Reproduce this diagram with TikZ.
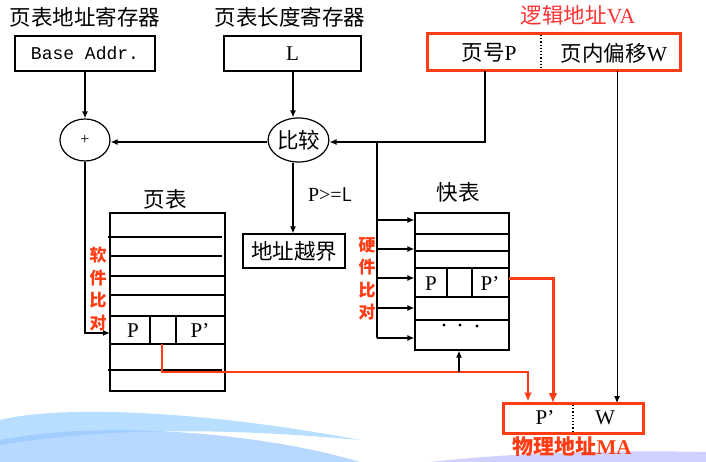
\documentclass[tikz,border=0pt]{standalone}
\usepackage{fontspec}
\setmainfont{Liberation Serif}
\setmonofont{Liberation Mono}
\newfontfamily\cjk{Noto Sans CJK SC}
\usetikzlibrary{shapes.geometric,arrows.meta}
\definecolor{hred}{RGB}{255,60,20}
\definecolor{lred}{RGB}{255,50,50}
\tikzset{
  box/.style={draw,line width=1.2pt,inner sep=0pt},
  rbox/.style={draw=hred,line width=3pt,inner sep=0pt},
  ell/.style={draw,line width=1.2pt,ellipse,inner sep=0pt},
  conn/.style={line width=1.3pt,-{Latex[length=7pt,width=6pt]}},
  plain/.style={line width=1.3pt},
  redconn/.style={draw=hred,line width=2pt,-{Latex[length=9pt,width=8pt]}},
  redthick/.style={draw=hred,line width=3pt,-{Latex[length=10pt,width=9pt]}},
  lbl/.style={font=\cjk\fontsize{21.5}{24}\selectfont,inner sep=0pt},
  lat/.style={font=\fontsize{21}{24}\selectfont,inner sep=0pt},
  vlbl/.style={font=\cjk\bfseries\fontsize{17}{22.5}\selectfont,text=hred,align=center,inner sep=0pt},
  rowline/.style={line width=1.2pt},
  dotmark/.style={circle,fill,inner sep=0pt,minimum size=3.2pt},
}
\begin{document}
\begin{tikzpicture}[x=1pt,y=-1pt]
\useasboundingbox (0,0) rectangle (706,462);
% decorative background swoosh
\fill[blue!45!cyan!35,opacity=0.8] (0,420) .. controls (60,405) and (200,410) .. (360,440) .. controls (250,430) and (120,425) .. (0,445) -- cycle;
\fill[blue!55!cyan!40,opacity=0.7] (0,440) .. controls (100,420) and (260,432) .. (360,462) -- (0,462) -- cycle;
\fill[blue!30,opacity=0.6] (430,462) .. controls (520,452) and (620,450) .. (706,452) -- (706,462) -- cycle;

% titles
\node[lbl] (t1) at (85,17) {页表地址寄存器};
\node[lbl] (t2) at (290,17) {页表长度寄存器};
\node[lbl,text=lred] (t3) at (578,15) {逻辑地址\textrm{VA}};

% registers
\node[box,minimum width=140pt,minimum height=35pt,font=\ttfamily\fontsize{18}{20}\selectfont] (base) at (85,53.5) {Base Addr.};
\node[box,minimum width=137pt,minimum height=35pt,lat] (len) at (292.5,53.5) {L};
\node[rbox,minimum width=253pt,minimum height=37pt] (va) at (553.5,52.5) {};
\draw[dotted,line width=1.2pt] (541,35) -- (541,70);
\node[lbl] (vp) at (489,53) {页号\textrm{P}};
\node[lbl] (vw) at (614,53) {页内偏移\textrm{W}};

% ellipses
\node[ell,minimum width=50pt,minimum height=42pt,font=\fontsize{16}{18}\selectfont] (plus) at (85,140) {+};
\node[ell,minimum width=59pt,minimum height=44pt,lbl,draw,line width=1.2pt] (cmp) at (298.5,140) {比较};

% out of bound box
\node[box,minimum width=102pt,minimum height=34pt,lbl] (oob) at (294,251) {地址越界};
\node[font=\fontsize{20}{22}\selectfont,inner sep=0pt] (ge) at (330,195) {P>=\textsf{L}};

% page table
\node[lbl] (ptl) at (165,199) {页表};
\node[box,minimum width=115pt,minimum height=178pt] (pt) at (167.5,302) {};
\draw[rowline] (108,237) -- (222,237);
\draw[line width=2pt] (110,256) -- (222,256);
\draw[rowline] (110,276) -- (225,276);
\draw[rowline] (110,295) -- (225,295);
\draw[rowline] (110,316) -- (225,316);
\draw[rowline] (110,344) -- (225,344);
\draw[rowline] (108,370) -- (222,370);
\draw[rowline] (150,316) -- (150,344);
\draw[rowline] (176,316) -- (176,344);
\node[lat] (ptp) at (133,331) {P};
\node[lat] (ptpp) at (200,331) {P’};
\coordinate (ptmid) at (162,344);
\coordinate (ptin) at (110,333);
\node[vlbl] (soft) at (98,289) {软\\件\\比\\对};

% TLB
\node[lbl] (tlbl) at (458,192) {快表};
\node[box,minimum width=94pt,minimum height=137pt] (tlb) at (462,281.5) {};
\draw[rowline] (415,234) -- (509,234);
\draw[rowline] (415,251) -- (509,251);
\draw[rowline] (415,268) -- (509,268);
\draw[rowline] (415,297) -- (509,297);
\draw[rowline] (415,320) -- (509,320);
\draw[rowline] (447,268) -- (447,297);
\draw[rowline] (472,268) -- (472,297);
\node[lat] (tp) at (431,284) {P};
\node[lat] (tpp) at (490,284) {P’};
\node[dotmark] (d1) at (444,325) {};
\node[dotmark] (d2) at (460,325) {};
\node[dotmark] (d3) at (477,326) {};
\node[vlbl] (hard) at (367,279) {硬\\件\\比\\对};
\coordinate (tlbout) at (509,278);

% physical address
\node[rbox,minimum width=140pt,minimum height=30pt] (ma) at (573,418) {};
\draw[dotted,line width=1.2pt] (573,405) -- (573,431);
\node[lat] (mp) at (545,418) {P’};
\node[lat] (mw) at (605,418) {W};
\node[font=\cjk\bfseries\fontsize{21}{24}\selectfont,text=hred,inner sep=0pt] (mal) at (572,447) {物理地址\textrm{MA}};

% connectors
\coordinate (pdown) at (485,71);
\coordinate (bus) at (377,142);
\draw[conn] (base.south) -- (plus.north);
\draw[conn] (len.south -| 293,0) -- (cmp.north -| 293,0);
\draw[conn] (pdown) |- (cmp.east |- 0,142);
\draw[conn] (cmp.west |- 0,142) -- (plus.east |- 0,142);
\draw[conn] (cmp.south -| 293,0) -- (oob.north -| 293,0);
\draw[conn] (plus.south) |- (ptin);
\draw[plain] (bus) -- (377,338);
\foreach \yy in {220,249,278,308,338} {
  \draw[conn] (377,\yy) -- (tlb.west |- 0,\yy);
}
\coordinate (rj) at (528,372);
\draw[redconn] (ptmid) |- (rj) -- (rj |- ma.north);
\draw[conn] (459,372) -- (tlb.south -| 459,0);
\draw[redthick] (tlbout) -| (553,403);
\draw[line width=1pt,-{Latex[length=7pt,width=6pt]}] (617,71) -- (617,403);
\end{tikzpicture}
\end{document}
